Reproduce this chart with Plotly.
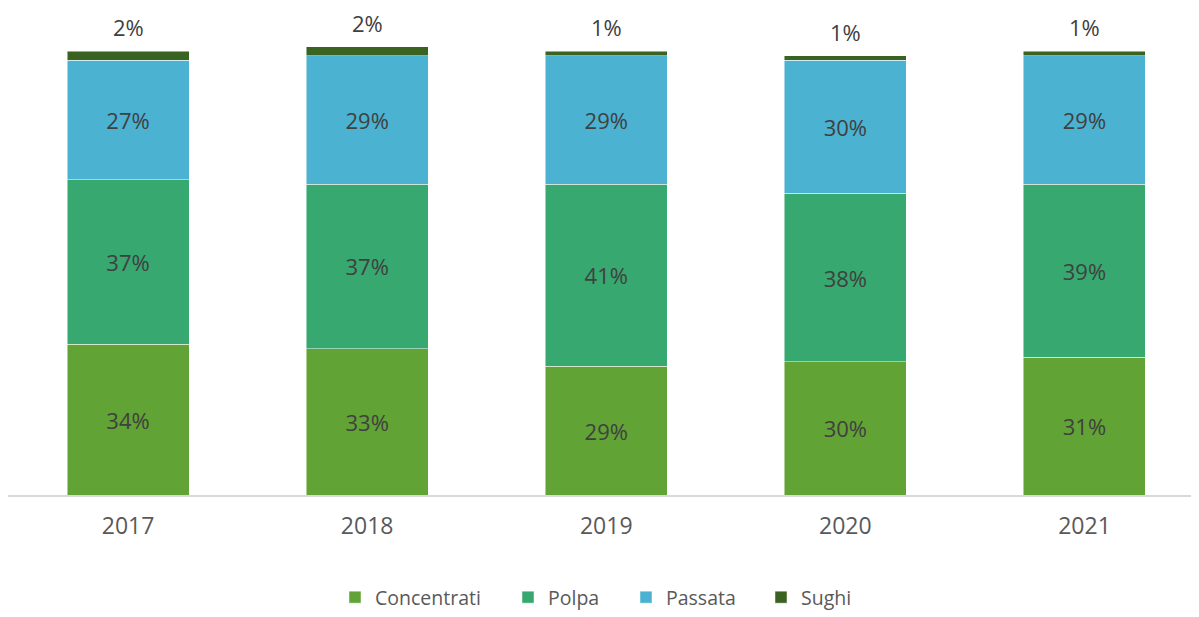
import plotly.graph_objects as go

years = ["2017", "2018", "2019", "2020", "2021"]
concentrati = [34, 33, 29, 30, 31]
polpa = [37, 37, 41, 38, 39]
passata = [27, 29, 29, 30, 29]
sughi = [2, 2, 1, 1, 1]

series = [
    ("Concentrati", concentrati, "#62A336"),
    ("Polpa", polpa, "#37A86F"),
    ("Passata", passata, "#4BB2D1"),
    ("Sughi", sughi, "#3A6321"),
]
# left edge of each legend square (figure px)
legend_square_x = [341, 514, 632, 767]

FONT = "'Open Sans', Lato, sans-serif"
FIG_W, FIG_H = 1191, 609
fig = go.Figure()
legend_layout = {}
for k, (name, vals, color) in enumerate(series):
    inside = name != "Sughi"
    lg = "legend" if k == 0 else f"legend{k + 1}"
    fig.add_trace(go.Bar(
        x=list(range(len(years))), y=vals, name=name, legend=lg, showlegend=True,
        marker=dict(color=color, line=dict(color="rgba(255,255,255,0.6)", width=0.8)),
        text=[f"{v}%" for v in vals] if inside else None,
        textposition="inside" if inside else "none",
        insidetextanchor="middle",
        textfont=dict(size=22, color="#404040", family=FONT),
        hoverinfo="skip",
    ))
    legend_layout[lg] = dict(
        orientation="h", x=(legend_square_x[k] - 14) / FIG_W, xanchor="left",
        y=-0.2618, yanchor="bottom", bgcolor="rgba(0,0,0,0)",
        font=dict(size=19.5, color="#595959", family=FONT),
        itemclick=False,
    )

totals = [a + b + c + d for a, b, c, d in zip(concentrati, polpa, passata, sughi)]
for i, (tot, v) in enumerate(zip(totals, sughi)):
    fig.add_annotation(x=i, y=tot, xref="x", yref="y", text=f"{v}%", showarrow=False,
                       yanchor="bottom", yshift=8, borderpad=0,
                       font=dict(size=22, color="#404040", family=FONT))

fig.update_layout(
    barmode="stack",
    bargap=0.49,
    showlegend=True,
    width=FIG_W, height=FIG_H,
    margin=dict(l=0, r=0, t=21, b=122),
    plot_bgcolor="white", paper_bgcolor="white",
    font=dict(family=FONT, color="#595959"),
    xaxis=dict(type="linear", range=[-0.502, 4.479], showgrid=False, showline=True,
               linecolor="#D9D9D9", linewidth=1.5, ticks="", zeroline=False,
               tickmode="array", tickvals=list(range(len(years))), ticktext=years,
               ticklabelstandoff=10,
               tickfont=dict(size=23, color="#595959", family=FONT)),
    yaxis=dict(range=[0, 105], visible=False, showgrid=False),
    **legend_layout,
)
fig.write_html("out.html")
